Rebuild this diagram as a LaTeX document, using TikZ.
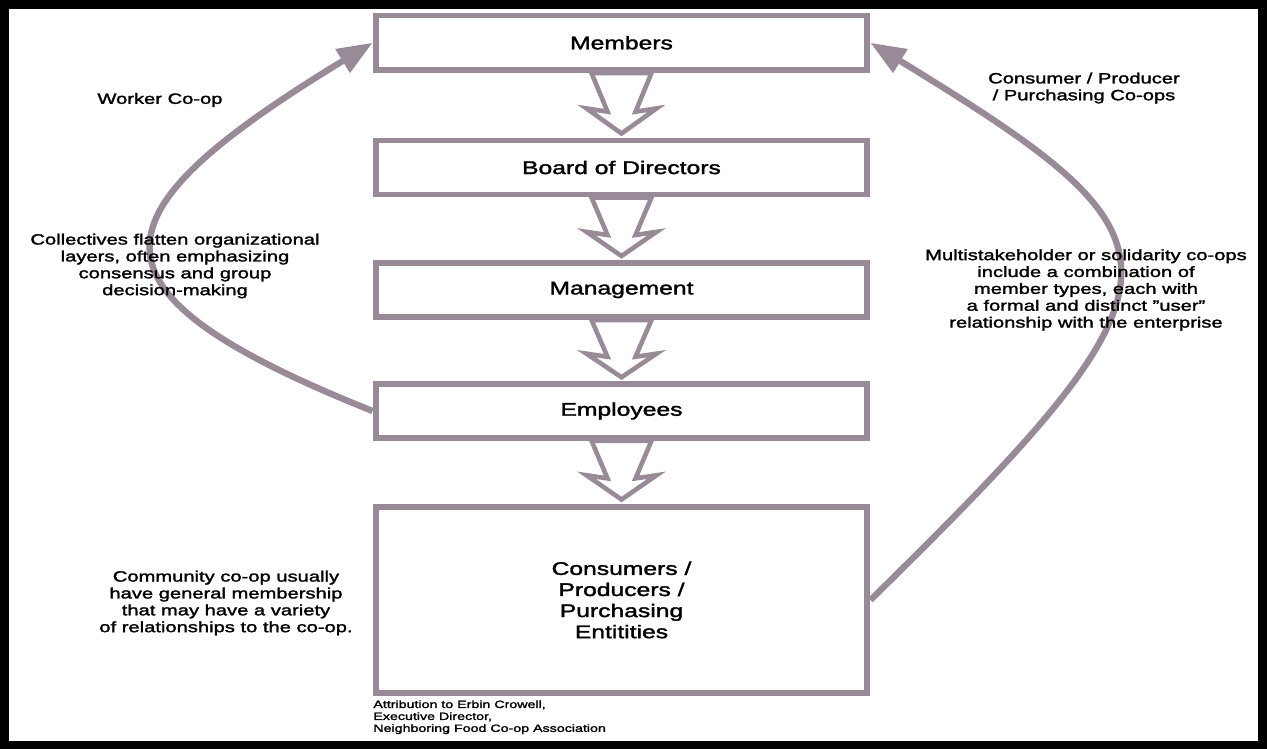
\documentclass[tikz,border=0pt]{standalone}
\usepackage{fontspec}
\setmainfont[FakeStretch=1.35, BoldFont=Liberation Sans, BoldFeatures={FakeBold=1.8}]{Liberation Sans}
\usetikzlibrary{calc}
\usetikzlibrary{arrows.meta}
\definecolor{coopgrey}{RGB}{152,138,150}

\begin{document}
\begin{tikzpicture}[x=0.02cm, y=-0.02cm,
	tier/.style={draw=coopgrey, line width=3.4pt, fill=white, minimum width=9.84cm, font=\bfseries\fontsize{10.4}{12}\selectfont, align=center},
	note/.style={align=center, font=\bfseries\fontsize{8.5}{9.6}\selectfont},
	hollow/.style={draw=coopgrey, line width=2.6pt, fill=white},
	feedback/.style={draw=coopgrey, line width=3.6pt, -{Triangle[length=20pt, width=15pt]}}]
	% frame
	\fill[black] (0,0) rectangle (1267,749);
	\fill[white] (9,9) rectangle (1258,741);
	% the five tiers
	\path (621.5,42.75) node(mem)[tier, minimum height=1.09cm]{Members}
	(621.5,167.5) node(board)[tier, minimum height=1.08cm]{Board of Directors}
	(621.5,290) node(mgmt)[tier, minimum height=1.08cm]{Management}
	(621.5,411) node(emp)[tier, minimum height=1.07cm]{Employees}
	(621.5,600) node(cons)[tier, minimum height=3.74cm]{Consumers /\\ Producers /\\ Purchasing\\ Entitities};
	% curved arrows back to the members
	\draw[feedback] (emp.west) .. controls (70,290) and (90,215) .. (mem.west);
	\draw[feedback] (cons.east) .. controls (1204,273) and (1196,242) .. (mem.east);
	% hollow arrows down the chain
	\foreach \a/\b in {mem/board, board/mgmt, mgmt/emp, emp/cons}
		\draw[hollow] ($(\a.south)+(-30,0)$) -- ($(\a.south)!0.6!(\b.north)+(-14,0)$)
		-- ($(\a.south)!0.55!(\b.north)+(-35,0)$) -- ($(\b.north)+(0,-4)$)
		-- ($(\a.south)!0.55!(\b.north)+(35,0)$) -- ($(\a.south)!0.6!(\b.north)+(14,0)$)
		-- ($(\a.south)+(30,0)$) -- cycle;
	% notes
	\path (160,100) node(worker)[note]{Worker Co-op}
	(175,266) node(collect)[note]{Collectives flatten organizational\\ layers, often emphasizing\\ consensus and group\\ decision-making}
	(1084,88) node(consumer)[note]{Consumer / Producer\\ / Purchasing Co-ops}
	(1086,290) node(multi)[note]{Multistakeholder or solidarity co-ops\\ include a combination of\\ member types, each with\\ a formal and distinct \char34 user\char34\\ relationship with the enterprise}
	(226,603) node(community)[note]{Community co-op usually\\ have general membership\\ that may have a variety\\ of relationships to the co-op.}
	(373,700) node(credit)[anchor=north west, align=left, inner sep=0pt, font=\bfseries\fontsize{6}{6.8}\selectfont]{Attribution to Erbin Crowell,\\ Executive Director,\\ Neighboring Food Co-op Association};
\end{tikzpicture}
\end{document}
